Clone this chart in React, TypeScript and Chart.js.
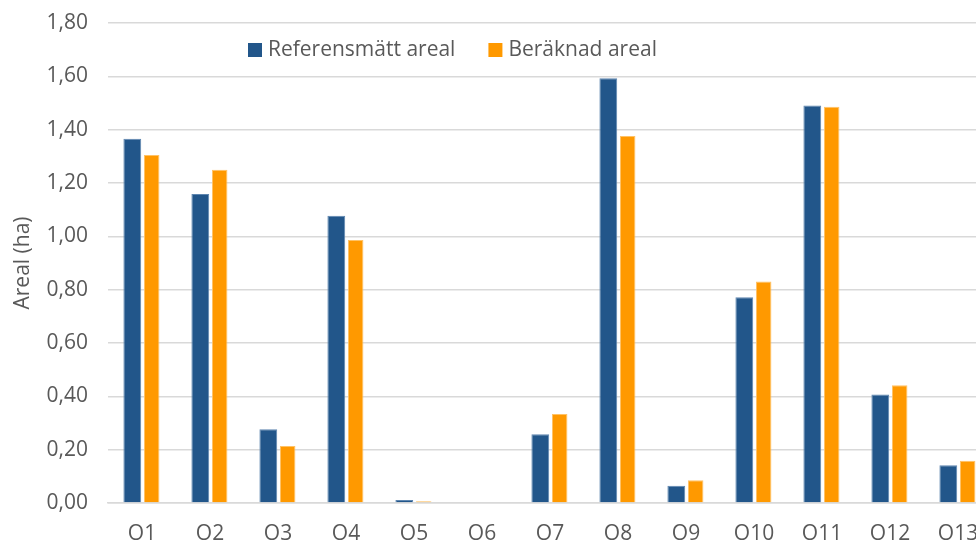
import React, { useEffect, useRef } from "react";
import { Chart, registerables } from "chart.js";

Chart.register(...registerables);

const categories = ["O1", "O2", "O3", "O4", "O5", "O6", "O7", "O8", "O9", "O10", "O11", "O12", "O13"];
const referensmatt = [1.366, 1.159, 0.277, 1.077, 0.011, 0, 0.258, 1.593, 0.065, 0.772, 1.491, 0.407, 0.142];
const beraknad = [1.305, 1.25, 0.214, 0.986, 0.007, 0, 0.334, 1.376, 0.085, 0.831, 1.486, 0.442, 0.158];
const seriesNames = ["Referensmätt areal", "Beräknad areal"];
const seriesColors = ["#22568A", "#FF9900"];
const yTitle = "Areal (ha)";

const FONT = "'Open Sans', Lato, sans-serif";
const TEXT = "#595959";
const SIZE = 21;

// Legend drawn inside the plot area, just below the top gridline
const innerLegend = {
  id: "innerLegend",
  afterDraw(chart: any) {
    const { ctx, chartArea } = chart;
    ctx.save();
    ctx.font = `${SIZE}px ${FONT}`;
    ctx.textBaseline = "middle";
    let x = chartArea.left + 140;
    const y = chartArea.top + 27;
    const box = 14;
    chart.data.datasets.forEach((ds: any) => {
      ctx.fillStyle = ds.backgroundColor;
      ctx.fillRect(x, y - box / 2, box, box);
      ctx.fillStyle = TEXT;
      ctx.textAlign = "left";
      ctx.fillText(ds.label, x + box + 6, y);
      x += box + 6 + ctx.measureText(ds.label).width + 33;
    });
    ctx.restore();
  },
};

export default function App() {
  const canvasRef = useRef<HTMLCanvasElement>(null);

  useEffect(() => {
    const chart = new Chart(canvasRef.current!, {
      type: "bar",
      data: {
        labels: categories,
        datasets: [
          {
            label: seriesNames[0],
            data: referensmatt,
            backgroundColor: seriesColors[0],
            borderColor: "#5E86B0",
            borderWidth: 1,
            barPercentage: 0.92,
            categoryPercentage: 0.57,
          },
          {
            label: seriesNames[1],
            data: beraknad,
            backgroundColor: seriesColors[1],
            borderColor: "#FFC266",
            borderWidth: 1,
            barPercentage: 0.8,
            categoryPercentage: 0.57,
          },
        ],
      },
      options: {
        responsive: false,
        animation: false,
        layout: { padding: { top: 23, right: 8, left: 0, bottom: 0 } },
        plugins: {
          legend: { display: false },
          tooltip: { enabled: false },
        },
        scales: {
          x: {
            grid: { display: false },
            border: { display: true, color: "#D9D9D9", width: 1.5 },
            ticks: {
              color: TEXT,
              font: { family: FONT, size: SIZE },
              padding: 10,
              maxRotation: 0,
            },
            afterFit(scale: any) {
              scale.height = 41;
              scale.paddingLeft = 0;
              scale.paddingRight = 0;
            },
          },
          y: {
            min: 0,
            max: 1.8,
            grid: { color: "#D9D9D9", lineWidth: 1.5, drawTicks: false },
            border: { display: false },
            ticks: {
              stepSize: 0.2,
              color: TEXT,
              font: { family: FONT, size: SIZE },
              padding: 20,
              callback: (v: any) => Number(v).toFixed(2).replace(".", ","),
            },
            title: {
              display: true,
              text: yTitle,
              color: TEXT,
              font: { family: FONT, size: SIZE },
              padding: { top: 10, bottom: 0 },
            },
            afterFit(scale: any) {
              scale.width = 108;
              scale.paddingTop = 0;
              scale.paddingBottom = 0;
            },
          },
        },
      },
      plugins: [innerLegend],
    });
    return () => chart.destroy();
  }, []);

  return (
    <div style={{ position: "fixed", left: 0, top: 0, width: 976, height: 544, overflow: "hidden", background: "#fff" }}>
      <canvas ref={canvasRef} width={1000} height={544} style={{ display: "block" }} />
    </div>
  );
}
